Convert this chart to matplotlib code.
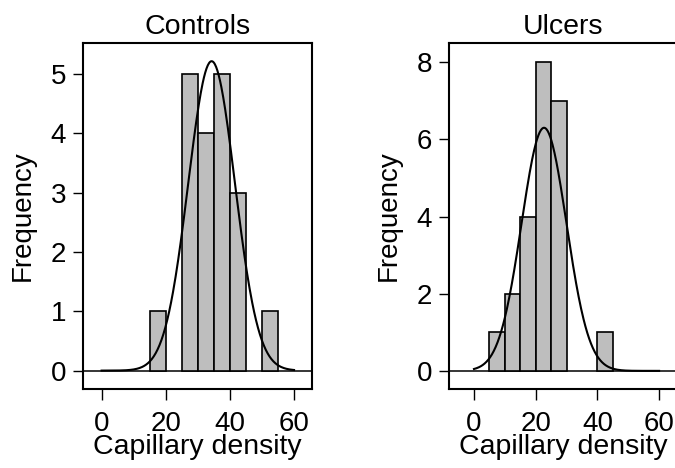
import numpy as np
import matplotlib.pyplot as plt

plt.rcParams['font.family'] = ['Liberation Sans', 'DejaVu Sans']

# histogram bins (left edges, width 5) and counts
ctrl_left = [15, 25, 30, 35, 40, 50]
ctrl_count = [1, 5, 4, 5, 3, 1]
ulc_left = [5, 10, 15, 20, 25, 40]
ulc_count = [1, 2, 4, 8, 7, 1]
bin_width = 5

# fitted normal curves
ctrl_mean, ctrl_sd = 34.3, 7.27
ulc_mean, ulc_sd = 22.7, 7.28

x_ticks = [0, 20, 40, 60]
ctrl_yticks = [0, 1, 2, 3, 4, 5]
ulc_yticks = [0, 2, 4, 6, 8]

fig = plt.figure(figsize=(6.75, 4.68), dpi=100)
ax1 = fig.add_axes([83 / 675, 79 / 468, 229 / 675, 346 / 468])
ax2 = fig.add_axes([449 / 675, 79 / 468, 228 / 675, 346 / 468])


def panel(ax, left, count, mean, sd, title, yticks, xlim, ylim):
    ax.bar(left, count, width=bin_width, align='edge', color='#bebebe',
           edgecolor='black', linewidth=1.2, zorder=2)
    n = sum(count)
    xs = np.linspace(0, 60, 300)
    ys = n * bin_width / (np.sqrt(2 * np.pi) * sd) * np.exp(-0.5 * ((xs - mean) / sd) ** 2)
    ax.plot(xs, ys, color='black', linewidth=1.5, zorder=3)
    ax.axhline(0, color='black', linewidth=1.1, zorder=1)
    ax.set_xlim(*xlim)
    ax.set_ylim(*ylim)
    ax.set_xticks(x_ticks)
    ax.set_yticks(yticks)
    ax.tick_params(axis='x', direction='out', length=8, width=1, labelsize=20, pad=7.5)
    ax.tick_params(axis='y', direction='out', length=7, width=1, labelsize=20, pad=5)
    for s in ax.spines.values():
        s.set_linewidth(1.5)
    ax.set_title(title, fontsize=20.5, pad=6.5)
    ax.set_xlabel('Capillary density', fontsize=20.5, labelpad=-1.5)
    ax.set_ylabel('Frequency', fontsize=20, labelpad=11)


panel(ax1, ctrl_left, ctrl_count, ctrl_mean, ctrl_sd, 'Controls', ctrl_yticks,
      (-5.8, 65.6), (-0.31, 5.52))
panel(ax2, ulc_left, ulc_count, ulc_mean, ulc_sd, 'Ulcers', ulc_yticks,
      (-8.1, 65.8), (-0.47, 8.5))

fig.savefig('out.png', dpi=100)
